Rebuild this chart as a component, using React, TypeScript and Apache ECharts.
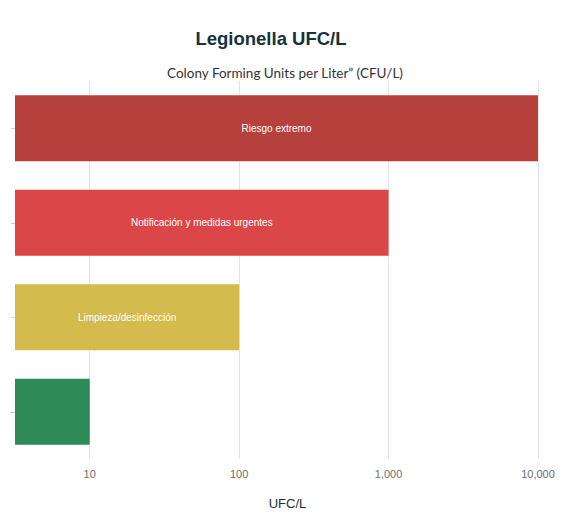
import { useEffect, useRef } from "react";
import * as echarts from "echarts";

// bottom to top, as in the picture
const levels = ["Bajo", "Limpieza", "Notificación", "Riesgo"];
const labels = ["", "Limpieza/desinfección", "Notificación y medidas urgentes", "Riesgo extremo"];
const values = [10, 100, 1000, 10000];
const colors = ["#2e8a57", "#d3bb4e", "#db4648", "#b5403c"];

export default function App() {
  const hostRef = useRef<HTMLDivElement>(null);

  useEffect(() => {
    const el = hostRef.current;
    if (!el) return;
    const chart = echarts.init(el, undefined, { renderer: "svg" });

    chart.setOption({
      animation: false,
      title: [
        {
          text: "Legionella UFC/L",
          left: 266,
          top: 24,
          textAlign: "center",
          textStyle: { fontFamily: "Liberation Sans", fontSize: 18.5, fontWeight: "bold", color: "#17323a" },
        },
        {
          text: "Colony Forming Units per Liter\u201d (CFU/L)",
          left: 280,
          top: 61,
          textAlign: "center",
          textStyle: { fontFamily: "Lato", fontSize: 13.5, fontWeight: "normal", color: "#333" },
        },
      ],
      grid: { left: 15, right: 24, top: 81, bottom: 52 },
      xAxis: {
        type: "log",
        logBase: 10,
        min: Math.sqrt(10),
        max: 10000,
        name: "UFC/L",
        nameLocation: "middle",
        nameGap: 38,
        nameTextStyle: { fontFamily: "Liberation Sans", fontSize: 13, color: "#17323a", padding: [0, 0, 0, 22] },
        axisLine: { show: false },
        axisTick: { show: false },
        axisLabel: {
          margin: 9,
          fontFamily: "Liberation Sans",
          fontSize: 11,
          color: "#707070",
          formatter: (v: number) => {
            const r = Math.round(v);
            const p = Math.log10(r);
            return Math.abs(p - Math.round(p)) < 1e-6 && r >= 10 ? r.toLocaleString("en-US") : "";
          },
        },
        splitLine: { showMinLine: false, lineStyle: { color: "#e3e3e3", width: 1 } },
      },
      yAxis: {
        type: "category",
        data: levels,
        axisLine: { show: false },
        axisTick: { show: true, alignWithLabel: true, length: 4, lineStyle: { color: "#d0d0d0" } },
        axisLabel: { show: false },
      },
      series: [
        {
          type: "bar",
          barWidth: "70%",
          data: values.map((v, i) => ({
            value: v,
            itemStyle: { color: colors[i] },
            label: { formatter: labels[i] },
          })),
          label: {
            show: true,
            position: "inside",
            fontFamily: "Liberation Sans",
            fontSize: 10,
            color: "#fff",
          },
        },
      ],
    });

    return () => chart.dispose();
  }, []);

  return <div ref={hostRef} style={{ position: "absolute", left: 0, top: 0, width: 562, height: 515 }} />;
}
